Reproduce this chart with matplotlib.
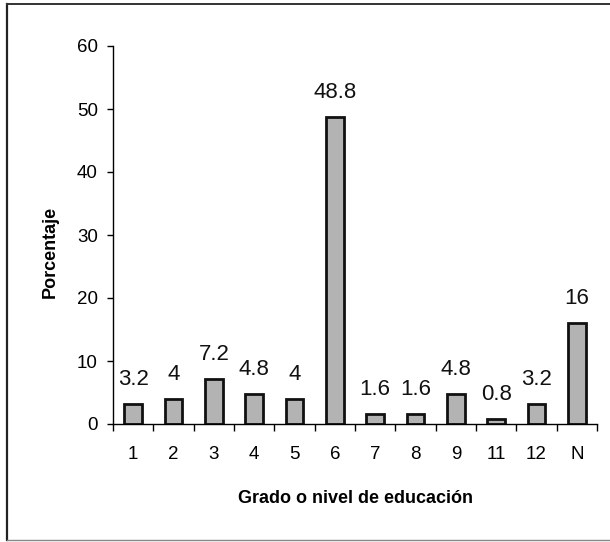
import matplotlib
matplotlib.use("Agg")
import matplotlib.pyplot as plt
from matplotlib.lines import Line2D

categories = ["1", "2", "3", "4", "5", "6", "7", "8", "9", "11", "12", "N"]
values = [3.2, 4, 7.2, 4.8, 4, 48.8, 1.6, 1.6, 4.8, 0.8, 3.2, 16]
value_labels = ["3.2", "4", "7.2", "4.8", "4", "48.8", "1.6", "1.6", "4.8", "0.8", "3.2", "16"]

plt.rcParams['font.family'] = ['Liberation Sans', 'DejaVu Sans']

W, H = 610, 542
fig = plt.figure(figsize=(6.1, 5.42), dpi=100)
fig.patch.set_facecolor("white")
# outer frame (left, top, bottom; right edge is cut off)
fig.lines.append(Line2D([7 / W, 7 / W], [1 - 4 / H, 1 - 540 / H], transform=fig.transFigure,
                        color="#222222", linewidth=1.6))
fig.lines.append(Line2D([7 / W, 1.0], [1 - 4 / H, 1 - 4 / H], transform=fig.transFigure,
                        color="#333333", linewidth=1.4))
fig.lines.append(Line2D([7 / W, 1.0], [1 - 540 / H, 1 - 540 / H], transform=fig.transFigure,
                        color="#888888", linewidth=1.0))

ax = fig.add_axes([113 / W, 1 - 424 / H, (597 - 113) / W, (424 - 46) / H])
x = list(range(len(categories)))
ax.bar(x, values, width=0.43, color="#b3b3b3", edgecolor="#111111", linewidth=2.0)
for xi, v, lab in zip(x, values, value_labels):
    ax.text(xi, v + 2.2, lab, ha="center", va="bottom", fontsize=16, color="#111111")

ax.set_xlim(-0.5, len(categories) - 0.5)
ax.set_ylim(0, 60)
ax.set_yticks([0, 10, 20, 30, 40, 50, 60])
ax.set_xticks(x)
ax.set_xticklabels(categories, fontsize=13.5)
ax.tick_params(axis="y", labelsize=13.5, length=4, direction="out", width=1, pad=7)
ax.tick_params(axis="x", length=0, pad=16)
ax.set_xticks([i + 0.5 for i in range(-1, len(categories))], minor=True)
ax.tick_params(axis="x", which="minor", length=5, direction="out", width=1)
for s in ["top", "right"]:
    ax.spines[s].set_visible(False)
ax.spines["left"].set_linewidth(1.0)
ax.spines["bottom"].set_linewidth(1.0)
ax.set_ylabel("Porcentaje", fontsize=13, fontweight="bold")
ax.yaxis.set_label_coords(-0.113, 0.455)
ax.set_xlabel("Grado o nivel de educación", fontsize=13, fontweight="bold", labelpad=19)

fig.savefig("out.png", dpi=100)
